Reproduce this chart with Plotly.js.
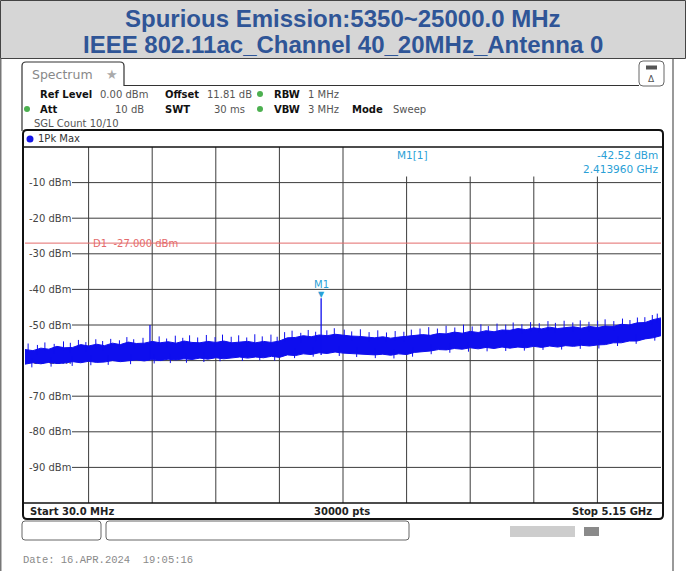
<!DOCTYPE html>
<html><head><meta charset="utf-8">
<script src="https://cdn.plot.ly/plotly-3.0.1.min.js"></script>
<style>html,body{margin:0;padding:0;background:#fff}#chart{width:686px;height:571px}</style>
</head><body><div id="chart"></div>
<script>
// ---------------- data ----------------
const titleLines = ['Spurious Emission:5350~25000.0 MHz', 'IEEE 802.11ac_Channel 40_20MHz_Antenna 0'];
const startMHz = 30;
const stopMHz = 5150;
const sweepPoints = 30000;
const stepMHz = 64;          // spacing of the read-off band samples
const refLevelDbm = 0;
const displayRangeDb = 100;
const divisions = 10;

// upper edge of the solid noise band (dBm), one value every 64 MHz from 30 MHz
const bandTopDbm = [
  -56.9, -57.2, -56.5, -56.8, -56.0, -56.4, -56.3, -55.5, -55.9, -55.4,
  -55.8, -55.1, -55.5, -54.8, -55.2, -55.1, -54.6, -55.0, -54.7, -55.1,
  -54.5, -54.9, -55.0, -54.6, -54.9, -54.5, -55.0, -54.7, -54.6, -55.0,
  -54.6, -54.9, -54.5, -53.6, -53.5, -53.0, -53.3, -52.8, -53.0, -52.6,
  -52.9, -53.1, -53.2, -53.4, -53.6, -53.3, -53.7, -53.4, -53.2, -53.0,
  -52.7, -52.9, -52.4, -52.5, -52.0, -52.3, -51.8, -52.1, -51.6, -51.9,
  -51.4, -51.5, -51.0, -51.3, -50.8, -51.1, -50.6, -51.0, -50.8, -50.5,
  -50.9, -50.4, -50.7, -50.3, -50.4, -49.8, -50.0, -49.4, -49.3, -48.5,
  -48.0
];
// lower edge of the solid noise band (dBm)
const bandBottomDbm = [
  -61.0, -60.6, -60.9, -60.5, -60.8, -60.7, -60.3, -60.6, -60.2, -60.5,
  -60.4, -60.0, -60.3, -60.1, -59.8, -60.1, -59.7, -60.0, -59.6, -59.8,
  -59.5, -59.7, -59.3, -59.6, -59.2, -59.5, -59.3, -59.0, -59.3, -59.0,
  -59.2, -58.8, -59.1, -58.4, -58.6, -58.1, -58.3, -57.8, -58.0, -57.6,
  -57.9, -58.0, -58.2, -58.1, -58.4, -58.2, -58.5, -58.1, -58.3, -57.7,
  -57.6, -57.3, -56.9, -57.0, -56.6, -56.8, -56.4, -56.7, -56.3, -56.6,
  -56.2, -56.5, -56.2, -56.4, -56.0, -56.3, -55.9, -56.2, -55.8, -56.0,
  -55.7, -55.9, -55.6, -55.5, -55.0, -55.0, -54.5, -54.5, -53.9, -53.6,
  -53.0
];
// short noise peaks sticking out above the band
const peakFreqMHz = [
  55, 130, 190, 265, 340, 395, 460, 520, 600, 655, 720, 790, 850, 905, 980,
  1110, 1170, 1240, 1300, 1355, 1420, 1490, 1560, 1620, 1690, 1750, 1815, 1880, 1940, 2010,
  2060, 2120, 2180, 2250, 2310, 2370, 2460, 2520, 2600, 2660, 2730, 2800, 2870, 2940, 3010,
  3080, 3140, 3210, 3280, 3350, 3420, 3490, 3560, 3630, 3700, 3760, 3830, 3900, 3960, 4030,
  4100, 4170, 4240, 4300, 4370, 4440, 4500, 4570, 4640, 4700, 4770, 4840, 4900, 4960, 5020,
  5080, 5120
];
const peakLevelDbm = [
  -55.2, -55.6, -54.9, -55.3, -54.6, -55.0, -54.2, -54.8, -54.0, -54.5, -53.9, -54.3, -53.4, -54.0, -53.6,
  -53.2, -53.8, -53.0, -53.6, -52.9, -53.5, -52.8, -53.4, -52.7, -53.3, -52.9, -53.5, -52.6, -53.2, -52.7,
  -53.3, -52.0, -51.6, -52.2, -51.4, -51.9, -51.5, -50.9, -51.3, -51.8, -51.2, -52.0, -51.5, -52.1, -51.7,
  -51.9, -51.3, -51.0, -50.6, -51.0, -50.2, -50.7, -49.9, -50.4, -49.8, -50.3, -49.6, -49.9, -49.3, -49.8,
  -49.2, -49.5, -48.9, -49.4, -48.8, -49.3, -48.7, -49.1, -48.8, -48.4, -48.9, -48.2, -48.6, -47.9, -47.8,
  -47.2, -46.8
];
// short noise dips below the band
const dipFreqMHz = [
  85, 240, 410, 560, 700, 880, 1070, 1200, 1330, 1470, 1600, 1780, 1920, 2040, 2200, 2350, 2560,
  2700, 2850, 3000, 3150, 3300, 3450, 3600, 3750, 3900, 4050, 4200, 4350, 4500, 4650, 4800, 4950, 5100
];
const dipLevelDbm = [
  -61.9, -61.7, -61.5, -61.3, -61.2, -61.0, -60.8, -60.7, -60.6, -60.4, -60.2, -60.1, -59.9, -60.0, -59.3, -58.9, -58.7,
  -59.0, -59.3, -59.4, -58.9, -58.2, -57.8, -57.5, -57.4, -57.3, -57.2, -57.0, -56.9, -56.7, -56.6, -55.9, -55.3, -54.4
];
// narrow spurs
const spurFreqMHz = [1036, 2413.96];
const spurPeakDbm = [-50.0, -42.52];
const spurBaseDbm = [-59.6, -58.4];

const markerName = 'M1';
const markerFreqMHz = 2413.96;
const markerLevelDbm = -42.52;
const displayLineName = 'D1';
const displayLineDbm = -27;

const yTickVals = [-10, -20, -30, -40, -50, -60, -70, -80, -90];
const yTickText = yTickVals.map(v => v + ' dBm');

const headerRow1 = [['Ref Level', '0.00 dBm'], ['Offset', '11.81 dB'], ['RBW', '1 MHz']];
const headerRow2 = [['Att', '10 dB'], ['SWT', '30 ms'], ['VBW', '3 MHz'], ['Mode', 'Sweep']];
const sglCount = 'SGL Count 10/10';
const traceLabel = '1Pk Max';
const dateText = 'Date: 16.APR.2024\u00a0\u00a019:05:16';

// ---------------- helpers (layout only) ----------------
const PX = x => (x - 25) / 636;
const PY = y => (503 - y) / 356;
function rr(x0, y0, x1, y1, r) {
  const p = (x, y) => PX(x) + ',' + PY(y);
  return 'M' + p(x0 + r, y0) + ' L' + p(x1 - r, y0) + ' Q' + p(x1, y0) + ' ' + p(x1, y0 + r) +
    ' L' + p(x1, y1 - r) + ' Q' + p(x1, y1) + ' ' + p(x1 - r, y1) +
    ' L' + p(x0 + r, y1) + ' Q' + p(x0, y1) + ' ' + p(x0, y1 - r) +
    ' L' + p(x0, y0 + r) + ' Q' + p(x0, y0) + ' ' + p(x0 + r, y0) + ' Z';
}
function T(text, x, y, o) {
  o = o || {};
  return {
    text: text, x: PX(x), y: PY(y), xref: 'paper', yref: 'paper', showarrow: false,
    xanchor: o.xa || 'left', yanchor: 'middle',
    font: { family: o.family || 'DejaVu Sans', size: o.size || 10, color: o.color || '#333' }
  };
}
const BLUE = 'rgb(14,14,238)';
const CYAN = '#2a9fd6';
const RED = '#e36b6b';
const GREEN = '#4cb050';
const GRID = '#3c3c3c';
const SPIKE_DB = 2.6;   // drawn length of a noise peak / dip into the band

// ---------------- traces ----------------
const spurX = [], spurY = [];
spurFreqMHz.forEach((f, i) => { spurX.push(f, f, null); spurY.push(spurBaseDbm[i], spurPeakDbm[i], null); });
const peakX = [], peakY = [];
peakFreqMHz.forEach((f, i) => { peakX.push(f, f, null); peakY.push(peakLevelDbm[i] - SPIKE_DB, peakLevelDbm[i], null); });
dipFreqMHz.forEach((f, i) => { peakX.push(f, f, null); peakY.push(dipLevelDbm[i] + SPIKE_DB, dipLevelDbm[i], null); });

const traces = [
  { type: 'scatter', mode: 'lines', x0: startMHz, dx: stepMHz, y: bandBottomDbm,
    line: { color: BLUE, width: 1 }, hoverinfo: 'skip' },
  { type: 'scatter', mode: 'lines', x0: startMHz, dx: stepMHz, y: bandTopDbm,
    fill: 'tonexty', fillcolor: BLUE, line: { color: BLUE, width: 1 }, hoverinfo: 'skip' },
  { type: 'scatter', mode: 'lines', x: peakX, y: peakY, line: { color: BLUE, width: 1 },
    connectgaps: false, hoverinfo: 'skip' },
  { type: 'scatter', mode: 'lines', x: spurX, y: spurY, line: { color: BLUE, width: 1.3 },
    connectgaps: false, hoverinfo: 'skip' }
];

// ---------------- shapes ----------------
const shapes = [];
// graticule: horizontal lines start right of the level labels
yTickVals.forEach(v => shapes.push({ type: 'line', xref: 'x domain', yref: 'y', layer: 'below',
  x0: PX(72), x1: 1, y0: v, y1: v, line: { color: GRID, width: 1 } }));
// vertical lines; on the right half they stop under the marker read-out field
for (let k = 1; k < divisions; k++) {
  const f = startMHz + k * (stopMHz - startMHz) / divisions;
  const frac = (f - startMHz) / (stopMHz - startMHz);
  shapes.push({ type: 'line', xref: 'x', yref: 'y domain', layer: 'below',
    x0: f, x1: f, y0: 0, y1: frac > PX(345) ? PY(176.5) : 1, line: { color: GRID, width: 1 } });
}
shapes.push(
  // title band
  { type: 'rect', xref: 'paper', yref: 'paper', x0: PX(0.5), x1: PX(685.5), y0: PY(0.5), y1: PY(58.5),
    fillcolor: '#d6d6d6', line: { color: '#444', width: 1 } },
  { type: 'line', xref: 'paper', yref: 'paper', x0: PX(0.8), x1: PX(0.8), y0: PY(58.5), y1: PY(571), line: { color: '#555', width: 1.2 } },
  { type: 'line', xref: 'paper', yref: 'paper', x0: PX(673), x1: PX(673), y0: PY(58.5), y1: PY(571), line: { color: '#555', width: 1.2 } },
  // spectrum tab
  { type: 'path', xref: 'paper', yref: 'paper',
    path: 'M' + PX(22) + ',' + PY(131) + ' L' + PX(22) + ',' + PY(66) + ' Q' + PX(22) + ',' + PY(62) + ' ' + PX(26) + ',' + PY(62) +
      ' L' + PX(120) + ',' + PY(62) + ' Q' + PX(124) + ',' + PY(62) + ' ' + PX(124) + ',' + PY(66) +
      ' L' + PX(124) + ',' + PY(85.5) + ' L' + PX(639) + ',' + PY(85.5),
    line: { color: '#333', width: 1.2 } },
  // icon box top right
  { type: 'path', xref: 'paper', yref: 'paper', path: rr(639, 61, 664, 86, 4), fillcolor: '#fff', line: { color: '#666', width: 1 } },
  { type: 'rect', xref: 'paper', yref: 'paper', x0: PX(646), x1: PX(657), y0: PY(65.5), y1: PY(69.5), fillcolor: '#555', line: { width: 0 } },
  // main trace box
  { type: 'path', xref: 'paper', yref: 'paper', path: rr(23, 130, 663, 519, 4), line: { color: '#111', width: 2 } },
  { type: 'line', xref: 'paper', yref: 'paper', x0: PX(23), x1: PX(663), y0: PY(147), y1: PY(147), line: { color: '#111', width: 1.5 } },
  { type: 'line', xref: 'paper', yref: 'paper', x0: PX(23), x1: PX(663), y0: PY(503), y1: PY(503), line: { color: '#111', width: 1.5 } },
  // lower soft-key boxes
  { type: 'path', xref: 'paper', yref: 'paper', path: rr(22, 521, 101, 540, 3), line: { color: '#666', width: 1 } },
  { type: 'path', xref: 'paper', yref: 'paper', path: rr(106, 521, 409, 540, 3), line: { color: '#666', width: 1 } },
  { type: 'rect', xref: 'paper', yref: 'paper', x0: PX(510), x1: PX(575), y0: PY(526), y1: PY(537), fillcolor: '#cdcdcd', line: { width: 0 } },
  { type: 'rect', xref: 'paper', yref: 'paper', x0: PX(584), x1: PX(599), y0: PY(527), y1: PY(536), fillcolor: '#8a8a8a', line: { width: 0 } },
  // dots
  { type: 'circle', xref: 'paper', yref: 'paper', x0: PX(26.5), x1: PX(33.5), y0: PY(135.5), y1: PY(142.5), fillcolor: '#1414e6', line: { width: 0 } },
  { type: 'circle', xref: 'paper', yref: 'paper', x0: PX(24), x1: PX(30), y0: PY(106), y1: PY(112), fillcolor: GREEN, line: { width: 0 } },
  { type: 'circle', xref: 'paper', yref: 'paper', x0: PX(257), x1: PX(263), y0: PY(91), y1: PY(97), fillcolor: GREEN, line: { width: 0 } },
  { type: 'circle', xref: 'paper', yref: 'paper', x0: PX(257), x1: PX(263), y0: PY(106), y1: PY(112), fillcolor: GREEN, line: { width: 0 } },
  // display line D1
  { type: 'line', xref: 'x domain', yref: 'y', x0: 0, x1: 1, y0: displayLineDbm, y1: displayLineDbm,
    line: { color: RED, width: 1 } }
);

// ---------------- annotations ----------------
const ann = [];
ann.push(T('<b>' + titleLines[0] + '</b>', 343, 18.5, { xa: 'center', family: 'Liberation Sans, Arial', size: 24, color: '#2f5597' }));
ann.push(T('<b>' + titleLines[1] + '</b>', 343, 44.5, { xa: 'center', family: 'Liberation Sans, Arial', size: 24, color: '#2f5597' }));
ann.push(T('Spectrum', 30, 74, { size: 12.5, color: '#888' }));
ann.push(T('\u2605', 104, 74, { size: 13, color: '#aaa' }));
ann.push(T('\u0394', 651.5, 79, { xa: 'center', size: 9, color: '#555' }));
// header rows
ann.push(T('<b>' + headerRow1[0][0] + '</b>', 38, 94, { color: '#111' }));
ann.push(T(headerRow1[0][1], 98, 94, { color: '#555' }));
ann.push(T('<b>' + headerRow1[1][0] + '</b>', 163, 94, { color: '#111' }));
ann.push(T(headerRow1[1][1], 205, 94, { color: '#555' }));
ann.push(T('<b>' + headerRow1[2][0] + '</b>', 272, 94, { color: '#111' }));
ann.push(T(headerRow1[2][1], 306, 94, { color: '#555' }));
ann.push(T('<b>' + headerRow2[0][0] + '</b>', 38, 109, { color: '#111' }));
ann.push(T(headerRow2[0][1], 146, 109, { xa: 'right', color: '#555' }));
ann.push(T('<b>' + headerRow2[1][0] + '</b>', 163, 109, { color: '#111' }));
ann.push(T(headerRow2[1][1], 247, 109, { xa: 'right', color: '#555' }));
ann.push(T('<b>' + headerRow2[2][0] + '</b>', 272, 109, { color: '#111' }));
ann.push(T(headerRow2[2][1], 306, 109, { color: '#555' }));
ann.push(T('<b>' + headerRow2[3][0] + '</b>', 350, 109, { color: '#111' }));
ann.push(T(headerRow2[3][1], 391, 109, { color: '#555' }));
ann.push(T(sglCount, 32, 123, { color: '#555' }));
ann.push(T(traceLabel, 36, 139, { color: '#333' }));
// marker info
ann.push(T(markerName + '[1]', 395, 155, { size: 10.5, color: CYAN }));
ann.push(T(markerLevelDbm.toFixed(2) + ' dBm', 660, 155, { xa: 'right', size: 10.5, color: CYAN }));
ann.push(T((markerFreqMHz / 1000).toFixed(6) + ' GHz', 660, 169, { xa: 'right', size: 10.5, color: CYAN }));
// marker symbol on trace
ann.push({ x: markerFreqMHz, y: markerLevelDbm, xref: 'x', yref: 'y', text: '\u25BC', showarrow: false,
  xanchor: 'center', yanchor: 'bottom', yshift: -3, font: { family: 'DejaVu Sans', size: 8, color: CYAN } });
ann.push({ x: markerFreqMHz, y: markerLevelDbm, xref: 'x', yref: 'y', text: markerName, showarrow: false,
  xanchor: 'center', yanchor: 'bottom', yshift: 6, font: { family: 'DejaVu Sans', size: 10, color: CYAN } });
// display line label
ann.push({ x: PX(91), y: displayLineDbm, xref: 'paper', yref: 'y', text: displayLineName + '\u00a0\u00a0' + displayLineDbm.toFixed(3) + ' dBm',
  showarrow: false, xanchor: 'left', yanchor: 'middle', font: { family: 'DejaVu Sans', size: 10, color: RED } });
// bottom row
ann.push(T('<b>Start ' + startMHz.toFixed(1) + ' MHz</b>', 28, 511, { color: '#222' }));
ann.push(T('<b>' + sweepPoints + ' pts</b>', 342, 511, { xa: 'center', color: '#222' }));
ann.push(T('<b>Stop ' + (stopMHz / 1000).toFixed(2) + ' GHz</b>', 654, 511, { xa: 'right', color: '#222' }));
ann.push(T(dateText, 21, 560, { family: 'Liberation Mono, DejaVu Sans Mono', size: 10.5, color: '#8a8a8a' }));

const layout = {
  width: 686, height: 571,
  margin: { l: 25, r: 25, t: 147, b: 68, pad: 0 },
  paper_bgcolor: '#fff', plot_bgcolor: '#fff',
  showlegend: false,
  xaxis: {
    range: [startMHz, stopMHz], showgrid: false, showticklabels: false, ticks: '',
    zeroline: false, showline: false, fixedrange: true
  },
  yaxis: {
    range: [refLevelDbm - displayRangeDb, refLevelDbm], tickvals: yTickVals, ticktext: yTickText,
    showgrid: false, ticks: '', ticklabelposition: 'inside', ticklabelstandoff: 1, layer: 'below traces',
    tickfont: { family: 'DejaVu Sans', size: 10, color: '#444' },
    zeroline: false, showline: false, fixedrange: true
  },
  shapes: shapes,
  annotations: ann
};

Plotly.newPlot('chart', traces, layout, { displayModeBar: false, staticPlot: true });
</script>
</body></html>
